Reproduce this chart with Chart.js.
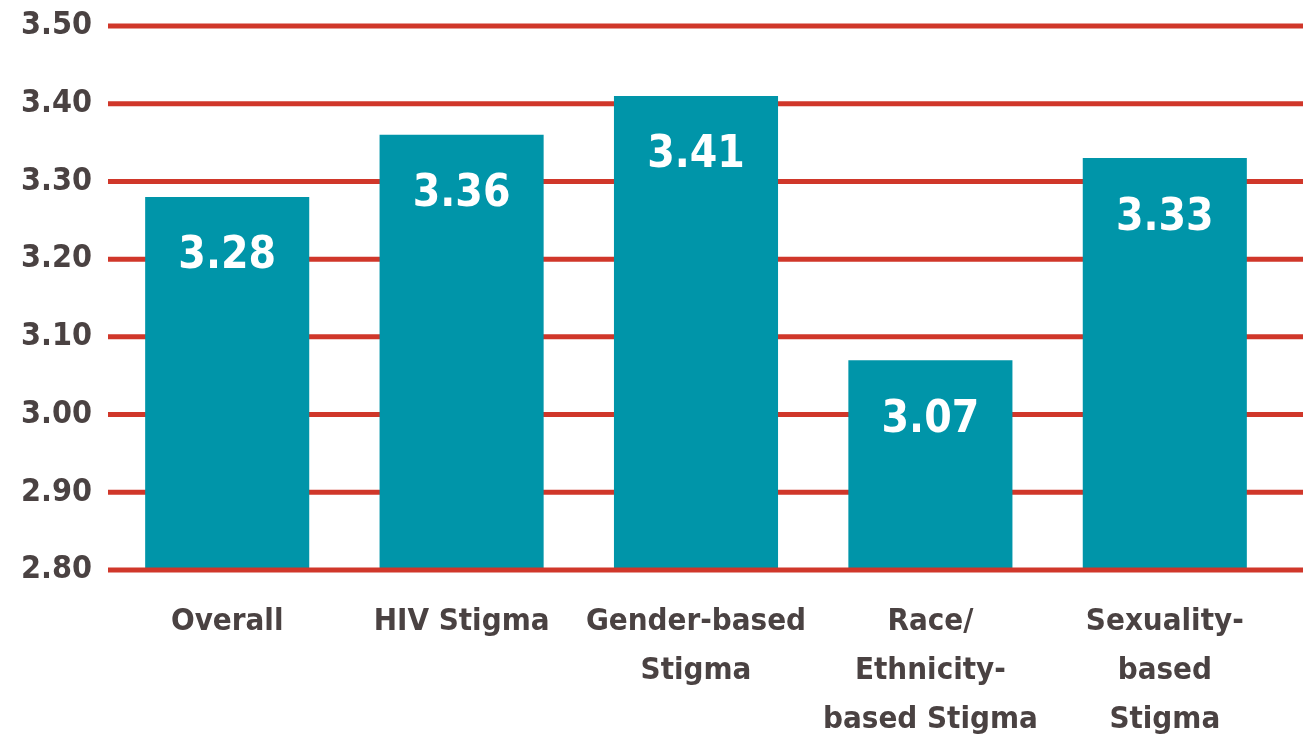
<!DOCTYPE html>
<html>
<head>
<meta charset="utf-8">
<script src="https://cdn.jsdelivr.net/npm/chart.js@4.4.0/dist/chart.umd.min.js"></script>
<style>
  html, body { margin: 0; padding: 0; background: #fff; }
  #wrap { width: 1303px; height: 746px; }
</style>
</head>
<body>
<div id="wrap"><canvas id="myChart" width="1303" height="746"></canvas></div>
<script>
const categories = [
    ['Overall'],
    ['HIV Stigma'],
    ['Gender-based', 'Stigma'],
    ['Race/', 'Ethnicity-', 'based Stigma'],
    ['Sexuality-', 'based', 'Stigma']
];
const scores = [3.28, 3.36, 3.41, 3.07, 3.33];
const yMin = 2.8;
const yMax = 3.5;
const yStep = 0.1;

const fontFamily = '"Liberation Sans Narrow", "DejaVu Sans Condensed", "Liberation Sans", sans-serif';
const teal = '#0095a9';
const red = '#d0372a';
const textColor = '#4a4242';

// red grid lines run from the axis labels to the right edge of the picture
const gridPlugin = {
    id: 'redGrid',
    beforeDatasetsDraw(chart) {
        const ctx = chart.ctx;
        const y = chart.scales.y;
        ctx.save();
        ctx.strokeStyle = red;
        ctx.lineWidth = 5;
        y.ticks.forEach(t => {
            if (Math.abs(t.value - yMin) < 1e-6) return;
            const py = y.getPixelForValue(t.value);
            ctx.beginPath();
            ctx.moveTo(108, py);
            ctx.lineTo(chart.width, py);
            ctx.stroke();
        });
        ctx.restore();
    },
    afterDatasetsDraw(chart) {
        const ctx = chart.ctx;
        const y = chart.scales.y;
        const py = y.getPixelForValue(yMin);
        ctx.save();
        ctx.strokeStyle = red;
        ctx.lineWidth = 5;
        ctx.beginPath();
        ctx.moveTo(108, py);
        ctx.lineTo(chart.width, py);
        ctx.stroke();

        // value labels inside the bars
        const meta = chart.getDatasetMeta(0);
        ctx.fillStyle = '#ffffff';
        ctx.font = 'bold 44px ' + fontFamily;
        ctx.textAlign = 'center';
        ctx.textBaseline = 'middle';
        meta.data.forEach((bar, i) => {
            ctx.fillText(scores[i].toFixed(2), bar.x, bar.y + 60);
        });
        ctx.restore();
    }
};

new Chart(document.getElementById('myChart'), {
    type: 'bar',
    data: {
        labels: categories,
        datasets: [{
            data: scores,
            backgroundColor: teal,
            borderWidth: 0,
            barPercentage: 0.7,
            categoryPercentage: 1.0
        }]
    },
    options: {
        responsive: false,
        animation: false,
        events: [],
        layout: { padding: { top: 24, right: 21, left: 0, bottom: 0 } },
        plugins: {
            legend: { display: false },
            tooltip: { enabled: false }
        },
        scales: {
            x: {
                grid: { display: false, drawTicks: false },
                border: { display: false },
                ticks: {
                    color: textColor,
                    font: { family: fontFamily, size: 31, weight: 'bold', lineHeight: 1.57 },
                    padding: 28,
                    maxRotation: 0,
                    autoSkip: false
                },
                afterFit(scale) { scale.height = 176; }
            },
            y: {
                min: yMin,
                max: yMax,
                grid: { display: false, drawTicks: false },
                border: { display: false },
                ticks: {
                    stepSize: yStep,
                    color: textColor,
                    font: { family: fontFamily, size: 32, weight: 'bold', lineHeight: 0.5 },
                    padding: 18,
                    callback: v => v.toFixed(2)
                },
                afterFit(scale) { scale.width = 110; }
            }
        }
    },
    plugins: [gridPlugin]
});
</script>
</body>
</html>
